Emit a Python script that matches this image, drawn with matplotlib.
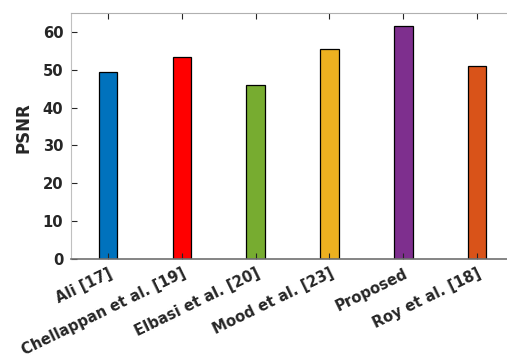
import numpy as np
import matplotlib.pyplot as plt
import matplotlib.transforms as mtransforms

methods = ['Ali [17]', 'Chellappan et al. [19]', 'Elbasi et al. [20]',
           'Mood et al. [23]', 'Proposed', 'Roy et al. [18]']
psnr = [49.5, 53.4, 45.9, 55.5, 61.5, 51.0]
colors = ['#0072BD', '#FF0000', '#77AC30', '#EDB120', '#7E2F8E', '#D95319']

plt.rcParams['font.family'] = 'DejaVu Sans'
plt.rcParams['font.weight'] = 'bold'

fig = plt.figure(figsize=(5.07, 3.64), dpi=100)
ax = fig.add_axes([0.140, 0.2885, 0.874, 0.676])

x = np.arange(1, len(methods) + 1)
ax.bar(x, psnr, width=0.25, color=colors, edgecolor='black', linewidth=0.9)

ax.set_xlim(0.5, 6.5)
ax.set_ylim(0, 65)
ax.set_yticks([0, 10, 20, 30, 40, 50, 60])
ax.set_xticks(x)
ax.set_xticklabels(methods, rotation=26, ha='right', rotation_mode='anchor',
                   fontsize=10.6, fontweight='bold', color='#262626')
shift = mtransforms.ScaledTranslation(7 / 100, 0, fig.dpi_scale_trans)
for t in ax.get_xticklabels():
    t.set_transform(t.get_transform() + shift)
for t in ax.get_yticklabels():
    t.set_fontsize(10.6)
    t.set_fontweight('bold')
    t.set_color('#262626')

ax.set_ylabel('PSNR', fontsize=12, fontweight='bold', color='#262626')
ax.yaxis.set_label_coords(-0.086, 0.532)

ax.tick_params(axis='both', direction='in', length=4, width=0.8, color='#262626')
ax.tick_params(axis='x', top=True, pad=5)
ax.tick_params(axis='y', pad=5.5)
ax.spines['left'].set_color('#c0c0c0')
ax.spines['top'].set_color('#b0b0b0')
ax.spines['bottom'].set_color('#707070')
ax.spines['bottom'].set_linewidth(1.2)
ax.spines['right'].set_visible(False)

fig.savefig('out.png', dpi=100)
